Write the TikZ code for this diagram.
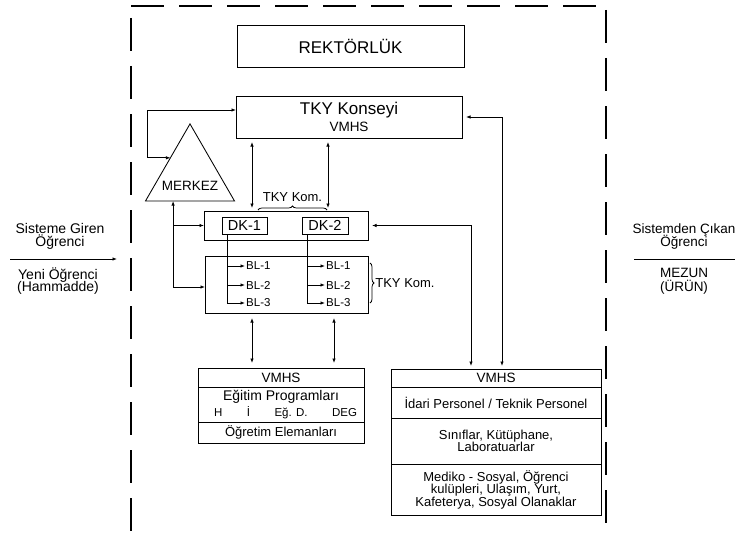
\documentclass[tikz,border=0pt]{standalone}
\usepackage{fontspec}
\setmainfont{Liberation Sans}
\usetikzlibrary{arrows.meta,shapes.geometric,calc,decorations.pathreplacing}
\newcommand{\tightlines}{\lineskiplimit-20pt\relax}

\begin{document}
\begin{tikzpicture}[x=1pt,y=-1pt]
\tikzset{
  box/.style={draw,line width=0.85pt,rectangle,inner sep=0pt,outer sep=0pt,align=center},
  lbl/.style={inner sep=0pt,align=center},
  arrow/.style={-{Latex[length=4.5pt,width=3.4pt]},line width=0.75pt},
  biarrow/.style={{Latex[length=4.5pt,width=3.4pt]}-{Latex[length=4.5pt,width=3.4pt]},line width=0.75pt},
  frame/.style={line width=1.1pt,dash pattern=on 33pt off 15pt},
  brace/.style={decorate,decoration={brace,amplitude=4pt},line width=0.75pt}
}
\useasboundingbox (0,0) rectangle (741,535);
% system border
\draw[frame] (131,6) -- (597,6);
\draw[frame] (131,18) -- (131,531);
\draw[frame] (606,10) -- (606,523);
% input / output
\node[lbl,font=\fontsize{14}{13.5}\selectfont\tightlines] (n_giren) at (60,236.5) {Sisteme Giren\\Öğrenci};
\node[lbl,font=\fontsize{14}{12.5}\selectfont\tightlines] (n_yeni) at (58,281) {Yeni Öğrenci\\(Hammadde)};
\node[lbl,font=\fontsize{13.5}{13.5}\selectfont\tightlines] (n_cikan) at (684,236.5) {Sistemden Çıkan\\Öğrenci};
\node[lbl,font=\fontsize{13.5}{13.5}\selectfont\tightlines] (n_mezun) at (684,281.5) {MEZUN\\(ÜRÜN)};
\coordinate (in_s) at (10,259);
\coordinate (in_e) at (117,259);
\coordinate (out_s) at (634,259);
\coordinate (out_e) at (735,259);
\draw[arrow] (in_s) -- (in_e);
\draw[line width=0.85pt] (out_s) -- (out_e);
% top of the organisation
\node[box,minimum width=227pt,minimum height=42pt,font=\fontsize{17}{18}\selectfont] (n_rektor) at (350.5,46) {REKTÖRLÜK};
\node[box,minimum width=226pt,minimum height=42pt,font=\fontsize{17}{17}\selectfont] (n_konsey) at (349,117) {TKY Konseyi\\[-0.5pt]{\fontsize{13.5}{14}\selectfont VMHS}};
\node[draw,line width=0.85pt,regular polygon,regular polygon sides=3,minimum size=102.8pt,inner sep=0pt,outer sep=0pt,
  label={[font=\fontsize{13.5}{14}\selectfont,yshift=-10.7pt]center:MERKEZ}] (n_merkez) at (190,175.3) {};
% DK and BL
\node[box,minimum width=164pt,minimum height=29pt] (n_dk) at (286,225.5) {};
\node[box,minimum width=45pt,minimum height=17pt,font=\fontsize{14.5}{15}\selectfont] (n_dk1) at (244.5,225.5) {DK-1};
\node[box,minimum width=46pt,minimum height=17pt,font=\fontsize{14.5}{15}\selectfont] (n_dk2) at (325,225.5) {DK-2};
\node[box,minimum width=163pt,minimum height=57pt] (n_bl) at (286.5,284.5) {};
\node[lbl,anchor=west,inner sep=1pt,font=\fontsize{11.5}{12}\selectfont] (n_bl_a1) at (245,266) {BL-1};
\node[lbl,anchor=west,inner sep=1pt,font=\fontsize{11.5}{12}\selectfont] (n_bl_a2) at (245,285) {BL-2};
\node[lbl,anchor=west,inner sep=1pt,font=\fontsize{11.5}{12}\selectfont] (n_bl_a3) at (245,303) {BL-3};
\node[lbl,anchor=west,inner sep=1pt,font=\fontsize{11.5}{12}\selectfont] (n_bl_b1) at (325,266) {BL-1};
\node[lbl,anchor=west,inner sep=1pt,font=\fontsize{11.5}{12}\selectfont] (n_bl_b2) at (325,285) {BL-2};
\node[lbl,anchor=west,inner sep=1pt,font=\fontsize{11.5}{12}\selectfont] (n_bl_b3) at (325,303) {BL-3};
% resources (left)
\node[box,minimum width=166pt,minimum height=19pt,font=\fontsize{13.5}{14}\selectfont] (n_lvmhs) at (281,377.5) {VMHS};
\node[box,minimum width=166pt,minimum height=35pt,font=\fontsize{14}{16}\selectfont] (n_egitim) at (281,404.5)
  {Eğitim Programları\\[0.5pt]{\fontsize{11.5}{12}\selectfont\hspace*{9pt}\makebox[143pt]{H\hfill İ\hfill Eğ. D.\hfill DEG}}};
\node[box,minimum width=166pt,minimum height=21pt,font=\fontsize{13}{14}\selectfont] (n_ogretim) at (281,432.5) {Öğretim Elemanları};
% resources (right)
\node[box,minimum width=210pt,minimum height=18pt,font=\fontsize{13.5}{14}\selectfont] (n_rvmhs) at (496,378) {VMHS};
\node[box,minimum width=210pt,minimum height=31pt,font=\fontsize{13}{14}\selectfont] (n_personel) at (496,402.5) {İdari Personel / Teknik Personel};
\node[box,minimum width=210pt,minimum height=46pt,font=\fontsize{13}{11.5}\selectfont\tightlines] (n_fiziki) at (496,441) {Sınıflar, Kütüphane,\\Laboratuarlar};
\node[box,minimum width=210pt,minimum height=51pt,font=\fontsize{13}{12.5}\selectfont\tightlines] (n_sosyal) at (496,489.5) {Mediko - Sosyal, Öğrenci\\kulüpleri, Ulaşım, Yurt,\\Kafeterya, Sosyal Olanaklar};
% braces
\draw[brace] ($(n_dk.north west)+(54,-1)$) -- node[lbl,above=8pt,font=\fontsize{13}{14}\selectfont] (n_kom_a) {TKY Kom.} ($(n_dk.north west)+(123,-1)$);
\draw[brace] ($(n_bl.north east)+(2,7)$) -- node[lbl,right=5pt,font=\fontsize{13}{14}\selectfont] (n_kom_b) {TKY Kom.} ($(n_bl.north east)+(2,47)$);
% connectors
\coordinate (m_side) at ($(n_merkez.corner 1)!0.44!(n_merkez.corner 2)$);
\coordinate (m_base) at ($(n_merkez.corner 2)!0.31!(n_merkez.corner 3)$);
\draw[biarrow] (m_side) -- ++(-23,0) |- ([yshift=7pt]n_konsey.west);
\draw[biarrow] (m_base) |- ([yshift=-2.5pt]n_bl.west);
\draw[arrow] (m_base |- n_dk.west) -- (n_dk.west);
\coordinate (k_a) at ($(n_konsey.south west)+(16,0)$);
\coordinate (k_b) at ($(n_konsey.south west)+(92,0)$);
\draw[biarrow,shorten <=4pt,shorten >=3pt] (k_a) -- (k_a |- n_dk.north);
\draw[biarrow,shorten <=4pt,shorten >=3pt] (k_b) -- (k_b |- n_dk.north);
\coordinate (d_a) at ($(n_dk1.south west)+(5,0)$);
\coordinate (d_b) at ($(n_dk2.south west)+(5,0)$);
\draw[arrow] (d_a) |- (n_bl_a3.west);
\draw[arrow] (d_a |- n_bl_a1.west) -- (n_bl_a1.west);
\draw[arrow] (d_a |- n_bl_a2.west) -- (n_bl_a2.west);
\draw[arrow] (d_b) |- (n_bl_b3.west);
\draw[arrow] (d_b |- n_bl_b1.west) -- (n_bl_b1.west);
\draw[arrow] (d_b |- n_bl_b2.west) -- (n_bl_b2.west);
\coordinate (b_a) at ($(n_bl.south west)+(47,0)$);
\coordinate (b_b) at ($(n_bl.south west)+(129,0)$);
\draw[biarrow,shorten <=5pt,shorten >=5pt] (b_a) -- (b_a |- n_lvmhs.north);
\draw[biarrow,shorten <=5pt,shorten >=5pt] (b_b) -- (b_b |- n_lvmhs.north);
\coordinate (r_a) at ($(n_rvmhs.north west)+(80,0)$);
\coordinate (r_b) at ($(n_rvmhs.north west)+(111,0)$);
\draw[biarrow,shorten <=4pt,shorten >=3pt] (n_dk.east) -| (r_a);
\draw[biarrow,shorten <=4pt,shorten >=3pt] (n_konsey.east) -| (r_b);
\end{tikzpicture}
\end{document}
